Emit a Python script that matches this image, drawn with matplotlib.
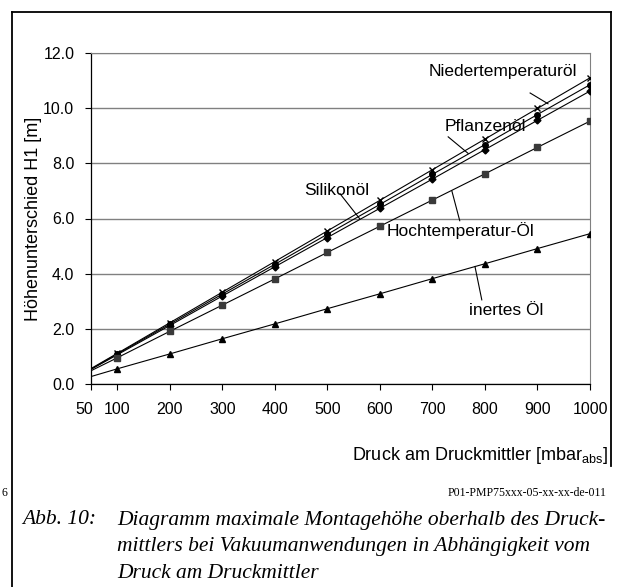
"""Diagramm maximale Montagehoehe oberhalb des Druckmittlers (Vakuum)."""
import matplotlib
matplotlib.use("Agg")
import matplotlib.pyplot as plt
import matplotlib.transforms as mtransforms
from matplotlib.lines import Line2D

W, H = 622, 587

# --- Daten -----------------------------------------------------------------
druck = [50, 100, 200, 300, 400, 500, 600, 700, 800, 900, 1000]
niedertemp = [0.56, 1.11, 2.22, 3.33, 4.44, 5.55, 6.66, 7.77, 8.88, 9.99, 11.10]
pflanzen = [0.54, 1.09, 2.17, 3.26, 4.34, 5.43, 6.51, 7.60, 8.68, 9.77, 10.85]
silikon = [0.53, 1.06, 2.12, 3.19, 4.25, 5.31, 6.37, 7.43, 8.50, 9.56, 10.62]
hochtemp = [0.48, 0.95, 1.91, 2.86, 3.81, 4.77, 5.72, 6.67, 7.62, 8.58, 9.53]
inert = [0.27, 0.55, 1.09, 1.64, 2.18, 2.73, 3.27, 3.82, 4.36, 4.91, 5.45]

x_ticks = [50, 100, 200, 300, 400, 500, 600, 700, 800, 900, 1000]
y_ticks = [0, 2, 4, 6, 8, 10, 12]

# name, werte, marker, markersize, farbe
serien = [
    ("Niedertemperaturöl", niedertemp, "x", 5, "black"),
    ("Pflanzenöl", pflanzen, "o", 4, "black"),
    ("Silikonöl", silikon, "D", 3.5, "black"),
    ("Hochtemperatur-Öl", hochtemp, "s", 4.5, "#3a3a3a"),
    ("inertes Öl", inert, "^", 5, "black"),
]

# Beschriftung: text (x, y), Hinweislinie (x0, y0) -> (x1, y1)
beschriftung = {
    "Niedertemperaturöl": ((835, 11.33), (886, 10.55), (920, 10.16)),
    "Pflanzenöl": ((800, 9.34), (730, 8.96), (768, 8.36)),
    "Silikonöl": ((518, 7.03), (524, 6.90), (562, 5.98)),
    "Hochtemperatur-Öl": ((754, 5.58), (737, 7.00), (752, 5.92)),
    "inertes Öl": ((840, 2.65), (794, 3.05), (781, 4.26)),
}

plt.rcParams["font.family"] = ["Liberation Sans", "DejaVu Sans"]

fig = plt.figure(figsize=(W / 100, H / 100), dpi=100)


def px(x, y):
    """Pixel (oben links) -> Figurkoordinaten."""
    return x / W, 1 - y / H


# Rahmen um die Grafik
for (xa, ya), (xb, yb) in [((12, 12), (12, H)), ((12, 12), (611, 12)),
                           ((611, 12), (611, 466))]:
    (fx0, fy0), (fx1, fy1) = px(xa, ya), px(xb, yb)
    fig.add_artist(Line2D([fx0, fx1], [fy0, fy1], transform=fig.transFigure,
                          color="black", lw=1.3))

left, right, top, bottom = 91, 590, 53, 384
ax = fig.add_axes([left / W, 1 - bottom / H, (right - left) / W,
                   (bottom - top) / H])

for name, werte, mk, ms, col in serien:
    ax.plot(druck, werte, color="black", lw=0.8, marker=mk, ms=ms,
            mfc=col, mec=col, mew=1.0, markevery=list(range(1, len(druck))),
            zorder=3)
    (tx, ty), (lx0, ly0), (lx1, ly1) = beschriftung[name]
    ax.text(tx, ty, name, ha="center", va="center", fontsize=12.5, zorder=4)
    ax.plot([lx0, lx1], [ly0, ly1], color="black", lw=0.8, zorder=3)

ax.set_xlim(50, 1000)
ax.set_ylim(0, 12)
ax.set_xticks(x_ticks)
ax.set_yticks(y_ticks)
ax.set_yticklabels([f"{v:.1f}" for v in y_ticks])
ax.tick_params(labelsize=11.5, length=4, width=0.8, colors="black")
ax.tick_params(axis="x", pad=9)
ax.tick_params(axis="y", pad=8)
# "50" sitzt etwas links vom Achsenanfang
lbl50 = ax.get_xticklabels()[0]
lbl50.set_transform(lbl50.get_transform() + mtransforms.ScaledTranslation(
    -7 / 100, 0, fig.dpi_scale_trans))
ax.grid(axis="y", color="#808080", lw=1.0)
ax.set_axisbelow(True)
for side in ("top", "right"):
    ax.spines[side].set_color("#808080")
for side in ("left", "bottom"):
    ax.spines[side].set_color("black")
    ax.spines[side].set_linewidth(0.9)

ax.set_ylabel("Höhenunterschied H1 [m]", fontsize=13, labelpad=1)

fig.text(*px(608, 455), r"Druck am Druckmittler [mbar$_{\mathregular{abs}}$]",
         ha="right", va="center", fontsize=13)
fig.text(*px(606, 493), "P01-PMP75xxx-05-xx-xx-de-011", ha="right",
         va="center", fontsize=8.5, family="Liberation Serif")
fig.text(*px(1, 493), "6", ha="left", va="center", fontsize=8.5,
         family="Liberation Serif")

cap = dict(fontsize=15.5, style="italic", family="Liberation Serif",
           va="center", ha="left")
fig.text(*px(22, 520), "Abb. 10:", **cap)
fig.text(*px(117, 520), "Diagramm maximale Montagehöhe oberhalb des Druck-", **cap)
fig.text(*px(117, 547), "mittlers bei Vakuumanwendungen in Abhängigkeit vom", **cap)
fig.text(*px(117, 574), "Druck am Druckmittler", **cap)

fig.savefig("out.png", dpi=100)
